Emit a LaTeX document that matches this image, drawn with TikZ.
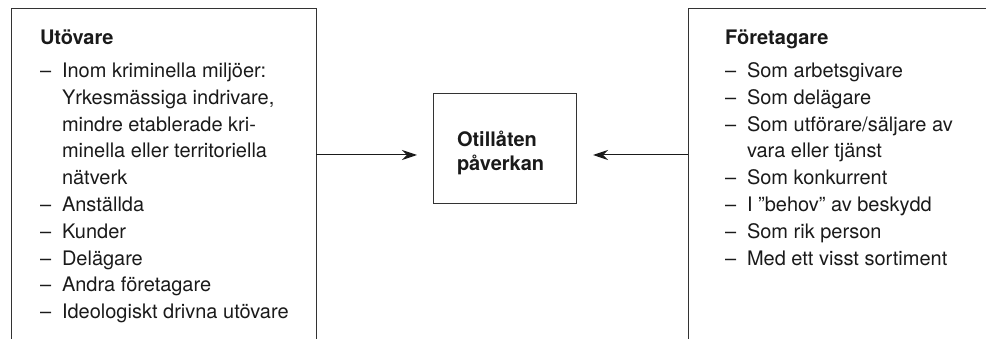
\documentclass[tikz,border=0pt]{standalone}
\usepackage{fontspec}
\setmainfont{TeX Gyre Heros}
\usetikzlibrary{arrows.meta}
\newcommand{\dsh}{\makebox[22pt][l]{–}}
\newcommand{\ind}{\hspace*{22pt}}
\definecolor{linegray}{HTML}{333333}
\definecolor{textblack}{HTML}{1A1A1A}
\begin{document}
\begin{tikzpicture}[x=1pt,y=-1pt,
  every node/.style={inner sep=0pt, outer sep=0pt, text=textblack, font=\fontsize{20}{24}\selectfont},
  panel/.style={draw=linegray, line width=1pt, rectangle, anchor=north west},
  head/.style={anchor=base west, font=\fontsize{20}{24}\selectfont\bfseries},
  itemtxt/.style={anchor=base west},
  arr/.style={draw=textblack, line width=1pt, -{Stealth[length=15pt,width=10pt,inset=5pt]}}]
\useasboundingbox (0,0) rectangle (986,339);
\clip (0,0) rectangle (986,339);
% boxes
\node[panel, minimum width=305pt, minimum height=360pt] (left) at (11,9) {};
\node[panel, minimum width=320pt, minimum height=360pt] (right) at (688,9) {};
\node[draw=linegray, line width=1pt, rectangle, minimum width=143pt, minimum height=110pt] (c) at (504.5,149) {};
\node[anchor=base west, font=\fontsize{20}{24}\selectfont\bfseries] (c1) at (457,147) {Otillåten};
\node[anchor=base west, font=\fontsize{20}{24}\selectfont\bfseries] (c2) at (457,171) {påverkan};
% left text
\node[head] (lh) at (40,45) {Utövare};
\node[itemtxt] (l1) at (40,77.5) {\dsh Inom kriminella miljöer:};
\node[itemtxt] (l2) at (40,104.3) {\ind Yrkesmässiga indrivare,};
\node[itemtxt] (l3) at (40,131.1) {\ind mindre etablerade kri-};
\node[itemtxt] (l4) at (40,157.9) {\ind minella eller territoriella};
\node[itemtxt] (l5) at (40,184.7) {\ind nätverk};
\node[itemtxt] (l6) at (40,211.5) {\dsh Anställda};
\node[itemtxt] (l7) at (40,238.3) {\dsh Kunder};
\node[itemtxt] (l8) at (40,265.1) {\dsh Delägare};
\node[itemtxt] (l9) at (40,291.9) {\dsh Andra företagare};
\node[itemtxt] (l10) at (40,318.7) {\dsh Ideologiskt drivna utövare};
% right text
\node[head] (rh) at (725,45) {Företagare};
\node[itemtxt] (r1) at (725,77.5) {\dsh Som arbetsgivare};
\node[itemtxt] (r2) at (725,104.3) {\dsh Som delägare};
\node[itemtxt] (r3) at (725,131.1) {\dsh Som utförare/säljare av};
\node[itemtxt] (r4) at (725,157.9) {\ind vara eller tjänst};
\node[itemtxt] (r5) at (725,184.7) {\dsh Som konkurrent};
\node[itemtxt] (r6) at (725,211.5) {\dsh I ”behov” av beskydd};
\node[itemtxt] (r7) at (725,238.3) {\dsh Som rik person};
\node[itemtxt] (r8) at (725,265.1) {\dsh Med ett visst sortiment};
% arrows
\coordinate (ay) at (0,155);
\draw[arr, shorten >=16pt] (left.east |- ay) -- (c.west |- ay);
\draw[arr, shorten >=17pt] (right.west |- ay) -- (c.east |- ay);
\end{tikzpicture}
\end{document}
